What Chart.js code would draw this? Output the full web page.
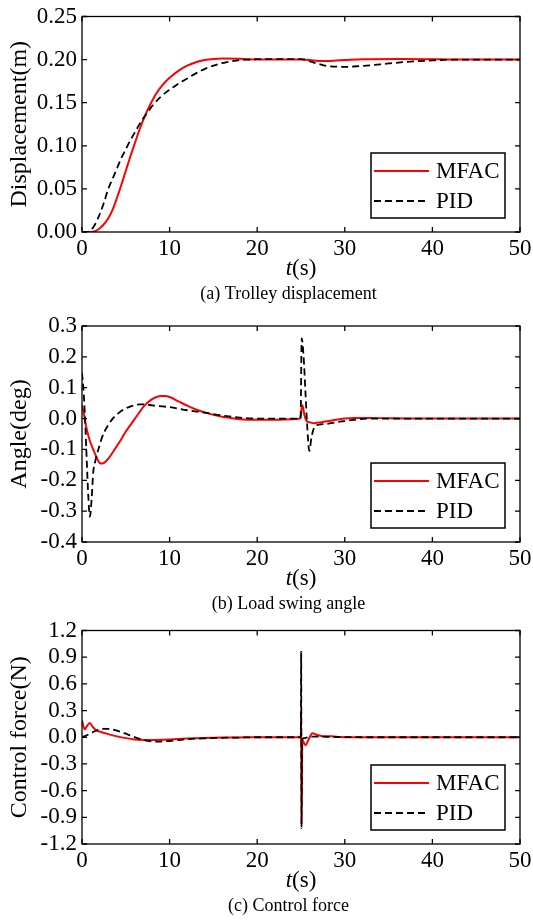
<!DOCTYPE html>
<html>
<head>
<meta charset="utf-8">
<script src="https://cdn.jsdelivr.net/npm/chart.js@4.4.1/dist/chart.umd.min.js"></script>
<style>
  body { margin: 0; background: #fff; }
  canvas { display: block; }
</style>
</head>
<body>
<canvas id="chart-1" width="533" height="305"></canvas>
<canvas id="chart-2" width="533" height="309"></canvas>
<canvas id="chart-3" width="533" height="306"></canvas>
<script>
const chart1 = document.getElementById('chart-1').getContext('2d');
const chart2 = document.getElementById('chart-2').getContext('2d');
const chart3 = document.getElementById('chart-3').getContext('2d');

const seriesNames = ['MFAC', 'PID'];
const xTicks = [0, 10, 20, 30, 40, 50];

// (a) trolley displacement
const dispMfacT = [0, 1, 1.5, 2, 2.5, 3, 3.5, 4, 4.5, 5, 5.5, 6, 6.5, 7, 7.5, 8, 8.5, 9, 9.5, 10, 11, 12, 13, 14, 15, 16, 18, 20, 25, 26, 27, 28, 29, 30, 32, 36, 40, 42, 50];
const dispMfacY = [0, 0, 0.001, 0.004, 0.009, 0.016, 0.026, 0.040, 0.055, 0.071, 0.087, 0.102, 0.117, 0.130, 0.142, 0.152, 0.161, 0.168, 0.174, 0.179, 0.187, 0.193, 0.197, 0.1995, 0.2008, 0.2012, 0.201, 0.200, 0.200, 0.1995, 0.1985, 0.1985, 0.199, 0.1995, 0.2005, 0.2008, 0.2005, 0.200, 0.200];
const dispPidT = [0, 0.5, 1, 1.5, 2, 2.5, 3, 3.5, 4, 4.5, 5, 5.5, 6, 6.5, 7, 7.5, 8, 9, 10, 11, 12, 13, 14, 15, 16, 17, 18, 19, 20, 25, 25.5, 26, 27, 28, 29, 30, 31, 33, 35, 38, 40, 42, 50];
const dispPidY = [0, 0, 0.002, 0.009, 0.020, 0.034, 0.050, 0.062, 0.074, 0.086, 0.096, 0.106, 0.115, 0.124, 0.132, 0.139, 0.146, 0.157, 0.165, 0.172, 0.178, 0.184, 0.189, 0.193, 0.196, 0.198, 0.1995, 0.200, 0.2005, 0.2005, 0.200, 0.198, 0.195, 0.1925, 0.1918, 0.1915, 0.192, 0.1935, 0.1955, 0.198, 0.199, 0.200, 0.200];

// (b) load swing angle
const angMfacT = [0, 0.25, 0.5, 0.75, 1, 1.5, 2, 2.3, 2.6, 3, 3.5, 4, 4.5, 5, 5.5, 6, 6.5, 7, 7.5, 8, 8.5, 9, 9.5, 10, 11, 12, 13, 14, 15, 16, 17, 18, 20, 22, 24, 24.9, 25.15, 25.4, 25.65, 26, 26.5, 27, 28, 29, 30, 31, 33, 35, 38, 50];
const angMfacY = [0.044, 0.010, -0.030, -0.058, -0.080, -0.115, -0.143, -0.146, -0.142, -0.130, -0.110, -0.088, -0.066, -0.042, -0.022, -0.002, 0.018, 0.038, 0.052, 0.063, 0.070, 0.073, 0.073, 0.070, 0.056, 0.042, 0.030, 0.020, 0.012, 0.006, 0.002, -0.002, -0.004, -0.004, -0.002, 0, 0.044, 0.010, -0.008, -0.012, -0.015, -0.013, -0.009, -0.004, 0, 0.002, 0.002, 0.001, 0, 0];
const angPidT = [0, 0.15, 0.3, 0.53, 0.7, 0.9, 1.1, 1.29, 1.5, 1.68, 2, 2.25, 2.6, 3, 3.5, 4.15, 4.8, 5.48, 6, 6.6, 7.2, 7.76, 8.5, 10, 12, 14, 16, 18, 20, 24.95, 25.08, 25.3, 25.5, 25.7, 25.95, 26.2, 26.5, 27, 28, 29, 30, 31, 33, 50];
const angPidY = [0.148, 0.100, 0.030, -0.128, -0.240, -0.318, -0.260, -0.172, -0.140, -0.118, -0.088, -0.064, -0.040, -0.021, 0.000, 0.017, 0.030, 0.039, 0.043, 0.046, 0.046, 0.044, 0.041, 0.037, 0.027, 0.019, 0.010, 0.003, 0, 0, 0.260, 0.200, 0.090, -0.020, -0.105, -0.060, -0.030, -0.020, -0.017, -0.012, -0.008, -0.004, 0, 0];

// (c) control force
const forceMfacT = [0, 0.3, 0.6, 0.9, 1.2, 1.6, 2, 3, 4, 5, 6, 7, 8, 9, 10, 12, 14, 16, 18, 20, 24.98, 25.02, 25.06, 25.15, 25.5, 25.9, 26.3, 26.7, 27.5, 28.5, 29.5, 31, 50];
const forceMfacY = [0.19, 0.09, 0.13, 0.16, 0.12, 0.08, 0.065, 0.035, 0.01, -0.01, -0.025, -0.03, -0.03, -0.028, -0.024, -0.015, -0.008, -0.004, -0.002, 0, 0, 0.28, -0.98, -0.03, -0.09, -0.02, 0.045, 0.03, 0.012, 0.01, 0.002, 0, 0];
const forcePidT = [0, 0.5, 1, 1.5, 2, 2.5, 3, 3.5, 4, 4.5, 5, 5.5, 6, 6.5, 7, 7.5, 8, 8.5, 9, 10, 11, 12, 14, 16, 18, 20, 24.98, 25.02, 25.06, 25.12, 25.4, 26, 27, 28, 30, 32, 50];
const forcePidY = [0, 0.02, 0.045, 0.07, 0.088, 0.095, 0.095, 0.088, 0.075, 0.058, 0.04, 0.02, 0.002, -0.015, -0.03, -0.042, -0.048, -0.05, -0.048, -0.042, -0.032, -0.022, -0.012, -0.006, -0.003, 0, 0, 0.96, -1.02, -0.02, -0.01, 0.005, 0.008, 0.005, 0.002, 0, 0];

const serif = '"Liberation Serif", "Times New Roman", serif';

function toPoints(ts, ys) {
    return ts.map((t, i) => ({ x: t, y: ys[i] }));
}

// frame, inward ticks, legend box, x title and caption, MATLAB style
const figurePlugin = {
    id: 'figure',
    afterDraw(chart, args, opts) {
        const ctx = chart.ctx;
        const a = chart.chartArea;
        const xs = chart.scales.x;
        const ys = chart.scales.y;
        ctx.save();
        ctx.strokeStyle = '#000';
        ctx.lineWidth = 1.3;
        ctx.setLineDash([]);
        ctx.strokeRect(a.left, a.top, a.width, a.height);

        ctx.beginPath();
        xs.ticks.forEach(t => {
            const px = xs.getPixelForValue(t.value);
            ctx.moveTo(px, a.bottom); ctx.lineTo(px, a.bottom - 5);
            ctx.moveTo(px, a.top); ctx.lineTo(px, a.top + 5);
        });
        ys.ticks.forEach(t => {
            const py = ys.getPixelForValue(t.value);
            ctx.moveTo(a.left, py); ctx.lineTo(a.left + 5, py);
            ctx.moveTo(a.right, py); ctx.lineTo(a.right - 5, py);
        });
        ctx.stroke();

        // legend
        const bw = 134, bh = 65;
        const bx = a.right - 15 - bw;
        const by = a.bottom - 14 - bh;
        ctx.fillStyle = '#fff';
        ctx.fillRect(bx, by, bw, bh);
        ctx.lineWidth = 1.5;
        ctx.strokeRect(bx, by, bw, bh);
        ctx.font = '23px ' + serif;
        ctx.textBaseline = 'middle';
        ctx.textAlign = 'left';
        chart.data.datasets.forEach((ds, i) => {
            const ry = by + 18 + i * 30;
            ctx.beginPath();
            ctx.strokeStyle = ds.borderColor;
            ctx.lineWidth = ds.borderWidth;
            ctx.setLineDash(ds.borderDash || []);
            ctx.moveTo(bx + 3, ry);
            ctx.lineTo(bx + 58, ry);
            ctx.stroke();
            ctx.fillStyle = '#000';
            ctx.fillText(ds.label, bx + 65, ry + 1);
        });
        ctx.setLineDash([]);

        // x axis title: italic t, then (s)
        ctx.textBaseline = 'alphabetic';
        ctx.font = 'italic 23px ' + serif;
        const w1 = ctx.measureText('t').width;
        ctx.font = '23px ' + serif;
        const w2 = ctx.measureText('(s)').width;
        const sx = (a.left + a.right) / 2 - (w1 + w2) / 2;
        ctx.font = 'italic 23px ' + serif;
        ctx.fillText('t', sx, a.bottom + 43);
        ctx.font = '23px ' + serif;
        ctx.fillText('(s)', sx + w1, a.bottom + 43);

        // caption
        ctx.font = '18px ' + serif;
        ctx.textAlign = 'center';
        ctx.fillText(opts.caption, 288.5, a.bottom + 67);
        ctx.restore();
    }
};

function makeChart(ctx, panel) {
    return new Chart(ctx, {
        type: 'line',
        data: {
            datasets: [{
                label: seriesNames[0],
                data: panel.mfac,
                borderColor: 'rgb(255, 0, 0)',
                borderWidth: 2,
                order: 1
            }, {
                label: seriesNames[1],
                data: panel.pid,
                borderColor: 'rgb(0, 0, 0)',
                borderWidth: 1.8,
                borderDash: [7, 4],
                order: 0
            }]
        },
        options: {
            responsive: false,
            animation: false,
            events: [],
            elements: {
                point: { radius: 0 },
                line: { cubicInterpolationMode: 'monotone' }
            },
            layout: { padding: { left: 0, right: 13, top: panel.top, bottom: 0 } },
            plugins: {
                legend: { display: false },
                tooltip: { enabled: false },
                figure: { caption: panel.caption }
            },
            scales: {
                x: {
                    type: 'linear',
                    min: 0,
                    max: 50,
                    afterBuildTicks: s => { s.ticks = xTicks.map(v => ({ value: v })); },
                    afterFit: s => { s.height = panel.height - panel.bottom; },
                    grid: { display: false, drawTicks: false },
                    border: { display: false },
                    ticks: {
                        padding: 1,
                        color: '#000',
                        font: { family: serif, size: 23, lineHeight: 1.35 },
                        maxRotation: 0,
                        autoSkip: false
                    }
                },
                y: {
                    min: panel.yTicks[0],
                    max: panel.yTicks[panel.yTicks.length - 1],
                    afterBuildTicks: s => { s.ticks = panel.yTicks.map(v => ({ value: v })); },
                    afterFit: s => { s.width = 82; },
                    grid: { display: false, drawTicks: false },
                    border: { display: false },
                    title: {
                        display: true,
                        text: panel.yTitle,
                        color: '#000',
                        font: { family: serif, size: 24 },
                        padding: { top: 5, bottom: 0 }
                    },
                    ticks: {
                        padding: 5,
                        color: '#000',
                        font: { family: serif, size: 23, lineHeight: 1 },
                        autoSkip: false,
                        callback: v => (Math.abs(v) < 1e-9 ? 0 : v).toFixed(panel.decimals)
                    }
                }
            }
        },
        plugins: [figurePlugin]
    });
}

const dispTicks = [0, 0.05, 0.10, 0.15, 0.20, 0.25];
const angTicks = [-0.4, -0.3, -0.2, -0.1, 0, 0.1, 0.2, 0.3];
const forceTicks = [-1.2, -0.9, -0.6, -0.3, 0, 0.3, 0.6, 0.9, 1.2];

var dispChart = makeChart(chart1, {
    mfac: toPoints(dispMfacT, dispMfacY),
    pid: toPoints(dispPidT, dispPidY),
    yTicks: dispTicks, decimals: 2,
    yTitle: 'Displacement(m)', caption: '(a) Trolley displacement',
    top: 15, bottom: 232, height: 305
});

var angleChart = makeChart(chart2, {
    mfac: toPoints(angMfacT, angMfacY),
    pid: toPoints(angPidT, angPidY),
    yTicks: angTicks, decimals: 1,
    yTitle: 'Angle(deg)', caption: '(b) Load swing angle',
    top: 21, bottom: 237, height: 309
});

var forceChart = makeChart(chart3, {
    mfac: toPoints(forceMfacT, forceMfacY),
    pid: toPoints(forcePidT, forcePidY),
    yTicks: forceTicks, decimals: 1,
    yTitle: 'Control force(N)', caption: '(c) Control force',
    top: 13, bottom: 230, height: 306
});
</script>
</body>
</html>
